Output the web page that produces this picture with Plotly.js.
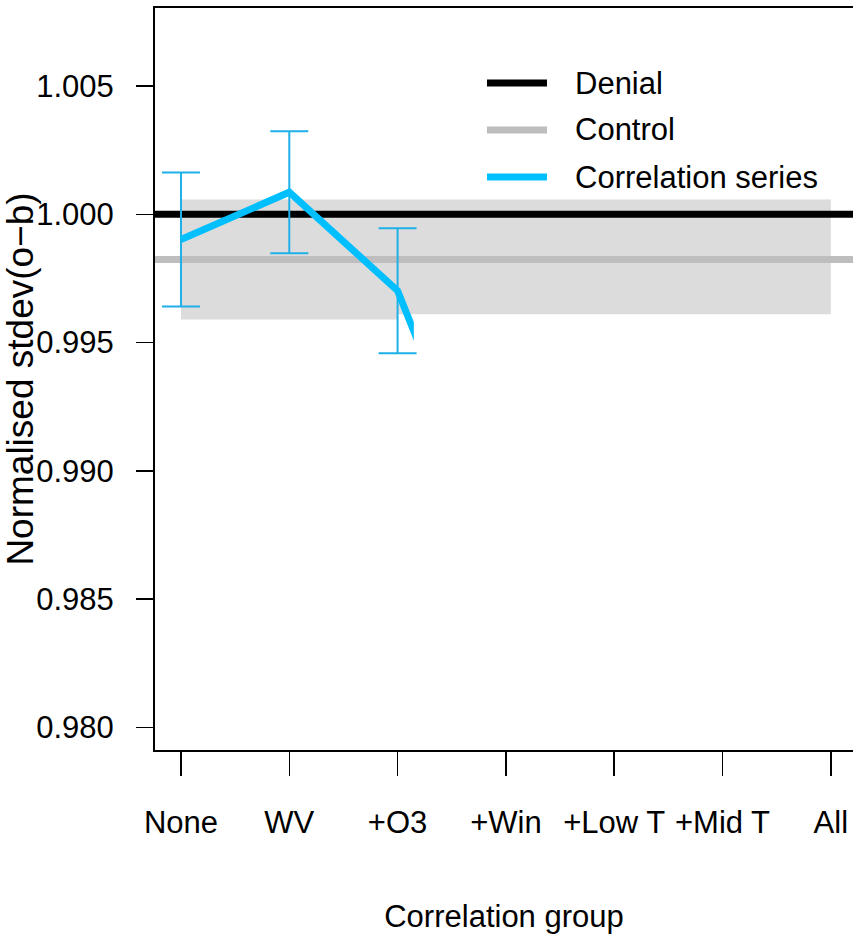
<!DOCTYPE html>
<html><head><meta charset="utf-8">
<script src="https://cdn.plot.ly/plotly-3.0.1.min.js"></script>
<style>html,body{margin:0;padding:0;background:#fff}</style>
</head><body><div id="chart" style="width:853px;height:937px"></div>
<script>
// ---- data ----
const categories = ['None', 'WV', '+O3', '+Win', '+Low T', '+Mid T', 'All'];
const seriesValues = [0.99902, 1.00086, 0.99702, 0.9865];   // last point only shows as the clipped tail
const seriesErrors = [0.00261, 0.00238, 0.00244];
const denialValue = 1.000;
const controlValue = 0.99824;
const bandUpper = [1.00058, 1.00058, 1.00058, 1.00058, 1.00058, 1.00058, 1.00058];
const bandLower = [0.99590, 0.99590, 0.99610, 0.99610, 0.99610, 0.99610, 0.99610];
const yTickVals = [0.980, 0.985, 0.990, 0.995, 1.000, 1.005];
const legendLabels = ['Denial', 'Control', 'Correlation series'];
const xTitle = 'Correlation group';
const yTitle = 'Normalised stdev(o\u2212b)';

// ---- layout helpers ----
const xPos = categories.map((_, i) => i + 1);
const xRange = [0.76, 7.205];
const yRange = [0.97912, 1.00804];
const clipAt = 3.15;               // the series line is cut off here in the reference
const clipDomain = (clipAt - xRange[0]) / (xRange[1] - xRange[0]);
const FONT = 'Liberation Sans, Arial, sans-serif';
const colDenial = '#000000', colControl = '#bebebe', colSeries = '#00bfff', colErr = '#1fb0e8';

// band path (step, hv) built from arrays
let p = `M${xPos[0]},${bandUpper[0]}`;
for (let i = 1; i < xPos.length; i++) p += ` H${xPos[i]} V${bandUpper[i]}`;
p += ` V${bandLower[xPos.length - 1]}`;
for (let i = xPos.length - 2; i >= 0; i--) p += ` V${bandLower[i]} H${xPos[i]}`;
p += ' Z';

const shapes = [
  {type: 'path', xref: 'x', yref: 'y', path: p, fillcolor: '#dcdcdc', line: {width: 0}, layer: 'below'},
  {type: 'line', xref: 'x', yref: 'y', x0: xRange[0], x1: xRange[1], y0: denialValue, y1: denialValue,
   line: {color: colDenial, width: 7}, layer: 'below'},
  {type: 'line', xref: 'x', yref: 'y', x0: xRange[0], x1: xRange[1], y0: controlValue, y1: controlValue,
   line: {color: colControl, width: 7}, layer: 'below'}
];

// manual legend (R-style)
const legColors = [colDenial, colControl, colSeries];
const legY = [0.8989, 0.8356, 0.7722];
const annotations = [];
legendLabels.forEach((lab, i) => {
  shapes.push({type: 'line', xref: 'paper', yref: 'paper', x0: 0.4756, x1: 0.5616, y0: legY[i], y1: legY[i],
    line: {color: legColors[i], width: 7}, layer: 'above'});
  annotations.push({xref: 'paper', yref: 'paper', x: 0.5990, y: legY[i], xanchor: 'left', yanchor: 'middle',
    text: lab, showarrow: false, font: {family: FONT, size: 31, color: '#000'}});
});

const traces = [
  {type: 'scatter', mode: 'markers', x: xPos.slice(0, seriesErrors.length), y: seriesValues.slice(0, seriesErrors.length),
   marker: {opacity: 0, size: 2}, xaxis: 'x', yaxis: 'y', hoverinfo: 'skip', showlegend: false,
   error_y: {type: 'data', array: seriesErrors, visible: true, color: colErr, thickness: 2, width: 19}},
  {type: 'scatter', mode: 'lines', x: xPos.slice(0, seriesValues.length), y: seriesValues,
   line: {color: colSeries, width: 7}, xaxis: 'x2', yaxis: 'y', hoverinfo: 'skip', showlegend: false}
];

const layout = {
  width: 853, height: 937,
  margin: {l: 155, r: 0, t: 8, b: 187, pad: 0},
  paper_bgcolor: '#ffffff', plot_bgcolor: 'rgba(0,0,0,0)',
  showlegend: false,
  font: {family: FONT, color: '#000'},
  xaxis: {
    range: xRange, tickvals: xPos, ticktext: categories, showgrid: false, zeroline: false,
    showline: true, mirror: true, linecolor: '#000', linewidth: 2,
    ticks: 'outside', ticklen: 24, tickwidth: 1.5, tickcolor: '#000',
    tickfont: {family: FONT, size: 31}, ticklabelstandoff: 20,
    title: {text: xTitle, font: {family: FONT, size: 31}, standoff: 66},
    automargin: false, fixedrange: true
  },
  xaxis2: {domain: [0, clipDomain], range: [xRange[0], clipAt], anchor: 'y', visible: false, fixedrange: true},
  yaxis: {
    range: yRange, tickvals: yTickVals, tickformat: '.3f', showgrid: false, zeroline: false,
    showline: true, linecolor: '#000', linewidth: 2,
    ticks: 'outside', ticklen: 17, tickwidth: 1.5, tickcolor: '#000',
    tickfont: {family: FONT, size: 31}, ticklabelstandoff: 16,
    title: {text: yTitle, font: {family: FONT, size: 37}, standoff: 2},
    automargin: false, fixedrange: true
  },
  shapes: shapes,
  annotations: annotations
};

Plotly.newPlot('chart', traces, layout, {displayModeBar: false, staticPlot: true});
</script>
</body></html>
